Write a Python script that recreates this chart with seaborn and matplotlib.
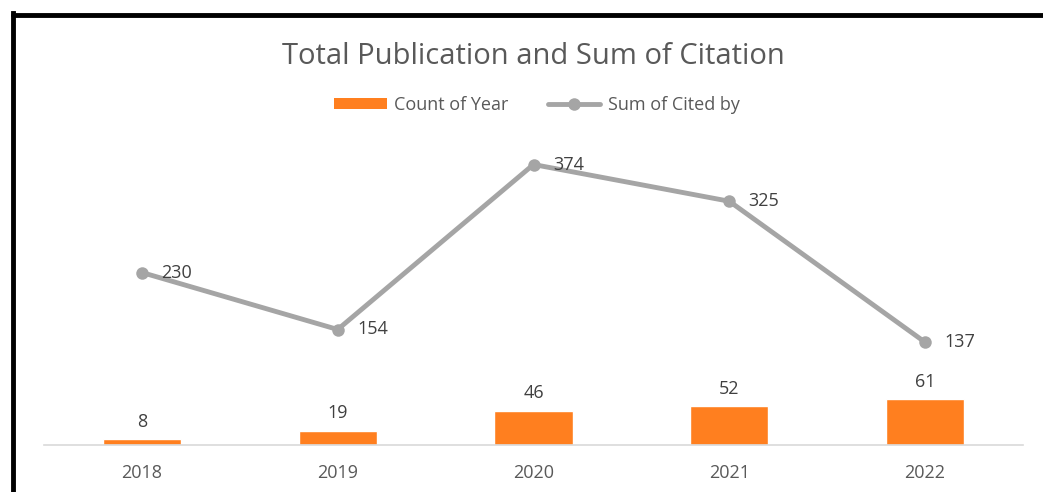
import matplotlib
matplotlib.use("Agg")
import matplotlib.pyplot as plt
from matplotlib.lines import Line2D
from matplotlib.patches import Patch
import seaborn as sns
import pandas as pd
import numpy as np

years = ["2018", "2019", "2020", "2021", "2022"]
count_of_year = [8, 19, 46, 52, 61]
sum_cited_by = [230, 154, 374, 325, 137]

sns.set_theme(style="white")
plt.rcParams["font.family"] = ["Open Sans", "DejaVu Sans"]

ORANGE = "#FF7F1F"
GRAY = "#A5A5A5"
TXT = "#595959"
LBL = "#404040"

fig = plt.figure(figsize=(10.43, 4.92), dpi=100)
ax = fig.add_axes([44 / 1043, 47 / 492, 979 / 1043, 300 / 492])

df = pd.DataFrame({"year": years, "count": count_of_year, "cited": sum_cited_by})
sns.barplot(data=df, x="year", y="count", color=ORANGE, saturation=1, width=0.4, ax=ax, zorder=2)
xpos = np.arange(len(years))
sns.lineplot(x=xpos, y=sum_cited_by, color=GRAY, lw=3.5, marker="o", markersize=9,
             markeredgewidth=0, ax=ax, zorder=3)

for i, v in enumerate(count_of_year):
    ax.annotate(str(v), (i, v), xytext=(0, 6), textcoords="offset points",
                ha="center", va="bottom", fontsize=13, color=LBL)
for i, v in enumerate(sum_cited_by):
    ax.annotate(str(v), (i, v), xytext=(14, 0), textcoords="offset points",
                ha="left", va="center", fontsize=13, color=LBL)

ax.set_xlim(-0.5, len(years) - 0.5)
ax.set_ylim(0, 400)
ax.set_yticks([])
ax.set_xlabel("")
ax.set_ylabel("")
for s in ["top", "right", "left"]:
    ax.spines[s].set_visible(False)
ax.spines["bottom"].set_color("#D9D9D9")
ax.spines["bottom"].set_linewidth(1.2)
ax.tick_params(axis="x", length=0, pad=14, labelsize=13, labelcolor=TXT)

fig.text(533 / 1043, 1 - 56 / 492, "Total Publication and Sum of Citation",
         ha="center", va="center", fontsize=21, color=TXT)

handles = [Patch(facecolor=ORANGE, edgecolor="none"),
           Line2D([0], [0], color=GRAY, lw=3.5, marker="o", markersize=9, markeredgewidth=0)]
fig.legend(handles, ["Count of Year", "Sum of Cited by"], loc="center",
           bbox_to_anchor=(537 / 1043, 1 - 105 / 492), ncol=2, frameon=False,
           fontsize=13, labelcolor=TXT, handlelength=2.9, handleheight=0.6,
           handletextpad=0.4, columnspacing=2.2)

# black border (top and left edges, cropped at right/bottom)
fig.add_artist(Line2D([12.5 / 1043, 12.5 / 1043], [0, 1 - 13 / 492], color="black",
                      lw=3.5, transform=fig.transFigure, solid_capstyle="projecting"))
fig.add_artist(Line2D([12.5 / 1043, 1], [1 - 15 / 492, 1 - 15 / 492], color="black",
                      lw=3.5, transform=fig.transFigure))

fig.savefig("out.png", dpi=100)
